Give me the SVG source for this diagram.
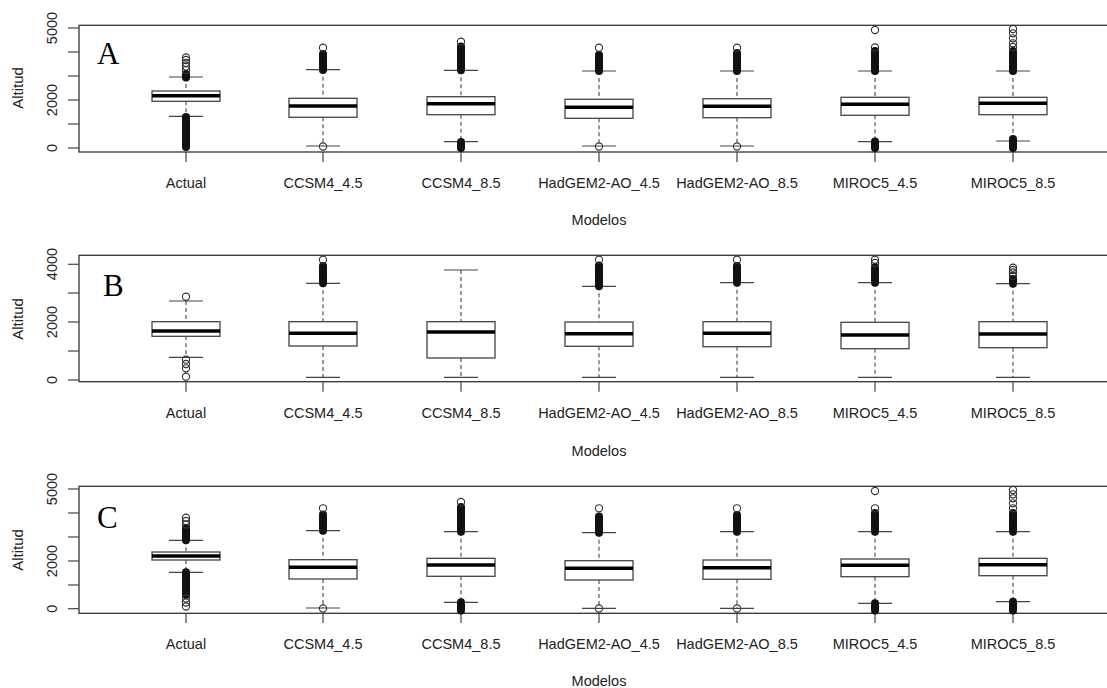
<svg xmlns="http://www.w3.org/2000/svg" width="1107" height="688" viewBox="0 0 1107 688">
<style>
.bg{fill:#fff}
.frame{fill:none;stroke:#333;stroke-width:1.3}
.tick{stroke:#444;stroke-width:1.2}
.box{fill:#fff;stroke:#444;stroke-width:1.3}
.med{stroke:#000;stroke-width:3.6}
.wh{stroke:#555;stroke-width:1.2;stroke-dasharray:4 3}
.cap{stroke:#444;stroke-width:1.2}
.out{fill:none;stroke:#333;stroke-width:1.1}
.dense{stroke:#111;stroke-width:8;stroke-linecap:round}
.lbl{font-family:"Liberation Sans",Arial,sans-serif;font-size:14.5px;fill:#222;text-anchor:middle}
.ttl{font-family:"Liberation Sans",Arial,sans-serif;font-size:15px;fill:#222;text-anchor:middle}
.big{font-family:"Liberation Serif","Times New Roman",serif;font-size:31px;fill:#000}
</style>
<rect class="bg" x="0" y="0" width="1107" height="688"/>

<!-- ================= PANEL A ================= -->
<g id="panel-A">
<rect class="frame" x="79" y="25.3" width="1040" height="126.7"/>
<g id="A-yaxis">
<line class="tick" x1="68" y1="148" x2="79" y2="148"/>
<line class="tick" x1="68" y1="124" x2="79" y2="124"/>
<line class="tick" x1="68" y1="100" x2="79" y2="100"/>
<line class="tick" x1="68" y1="76" x2="79" y2="76"/>
<line class="tick" x1="68" y1="52" x2="79" y2="52"/>
<line class="tick" x1="68" y1="28" x2="79" y2="28"/>
<text class="lbl" transform="translate(57,148) rotate(-90)">0</text>
<text class="lbl" transform="translate(57,100) rotate(-90)">2000</text>
<text class="lbl" transform="translate(57,28) rotate(-90)">5000</text>
<text class="ttl" transform="translate(23,88) rotate(-90)">Altitud</text>
</g>
<g id="A-xaxis">
<line class="tick" x1="186" y1="152" x2="186" y2="162"/>
<line class="tick" x1="323" y1="152" x2="323" y2="162"/>
<line class="tick" x1="461" y1="152" x2="461" y2="162"/>
<line class="tick" x1="599" y1="152" x2="599" y2="162"/>
<line class="tick" x1="737" y1="152" x2="737" y2="162"/>
<line class="tick" x1="875" y1="152" x2="875" y2="162"/>
<line class="tick" x1="1013" y1="152" x2="1013" y2="162"/>
<text class="lbl" x="186" y="188">Actual</text>
<text class="lbl" x="323" y="188">CCSM4_4.5</text>
<text class="lbl" x="461" y="188">CCSM4_8.5</text>
<text class="lbl" x="599" y="188">HadGEM2-AO_4.5</text>
<text class="lbl" x="737" y="188">HadGEM2-AO_8.5</text>
<text class="lbl" x="875" y="188">MIROC5_4.5</text>
<text class="lbl" x="1013" y="188">MIROC5_8.5</text>
<text class="lbl" x="599" y="225">Modelos</text>
</g>
<text class="big" x="97" y="64">A</text>

<g id="A-actual">
<line class="wh" x1="186" y1="77" x2="186" y2="91"/><line class="wh" x1="186" y1="101.3" x2="186" y2="116.3"/>
<line class="cap" x1="169" y1="77" x2="203" y2="77"/><line class="cap" x1="169" y1="116.3" x2="203" y2="116.3"/>
<rect class="box" x="152" y="91" width="68" height="10.3"/>
<line class="med" x1="152" y1="95.7" x2="220" y2="95.7"/>
<line class="dense" x1="186" y1="74" x2="186" y2="77.5"/>
<line class="dense" x1="186" y1="117" x2="186" y2="147"/>
<circle class="out" cx="186" cy="70" r="3.6"/><circle class="out" cx="186" cy="66.5" r="3.6"/><circle class="out" cx="186" cy="63" r="3.6"/><circle class="out" cx="186" cy="60" r="3.6"/><circle class="out" cx="186" cy="57.5" r="3.6"/>
</g>
<g id="A-ccsm4-45">
<line class="wh" x1="323" y1="69.7" x2="323" y2="98.3"/><line class="wh" x1="323" y1="117.3" x2="323" y2="146"/>
<line class="cap" x1="306" y1="69.7" x2="340" y2="69.7"/><line class="cap" x1="306" y1="146" x2="340" y2="146"/>
<rect class="box" x="289" y="98.3" width="68" height="19"/>
<line class="med" x1="289" y1="106" x2="357" y2="106"/>
<line class="dense" x1="323" y1="54" x2="323" y2="70"/>
<circle class="out" cx="323" cy="47.7" r="3.6"/><circle class="out" cx="323" cy="146.5" r="3.6"/>
</g>
<g id="A-ccsm4-85">
<line class="wh" x1="461" y1="70.3" x2="461" y2="96.7"/><line class="wh" x1="461" y1="114.7" x2="461" y2="141.7"/>
<line class="cap" x1="444" y1="70.3" x2="478" y2="70.3"/><line class="cap" x1="444" y1="141.7" x2="478" y2="141.7"/>
<rect class="box" x="427" y="96.7" width="68" height="18"/>
<line class="med" x1="427" y1="103.7" x2="495" y2="103.7"/>
<line class="dense" x1="461" y1="46.5" x2="461" y2="70.3"/>
<line class="dense" x1="461" y1="142" x2="461" y2="148"/>
<circle class="out" cx="461" cy="41.7" r="3.6"/>
</g>
<g id="A-hadgem-45">
<line class="wh" x1="599" y1="71" x2="599" y2="99.3"/><line class="wh" x1="599" y1="118.3" x2="599" y2="146"/>
<line class="cap" x1="582" y1="71" x2="616" y2="71"/><line class="cap" x1="582" y1="146" x2="616" y2="146"/>
<rect class="box" x="565" y="99.3" width="68" height="19"/>
<line class="med" x1="565" y1="107.3" x2="633" y2="107.3"/>
<line class="dense" x1="599" y1="55" x2="599" y2="71"/>
<circle class="out" cx="599" cy="47.7" r="3.6"/><circle class="out" cx="599" cy="146.5" r="3.6"/>
</g>
<g id="A-hadgem-85">
<line class="wh" x1="737" y1="71" x2="737" y2="98.7"/><line class="wh" x1="737" y1="117.7" x2="737" y2="146"/>
<line class="cap" x1="720" y1="71" x2="754" y2="71"/><line class="cap" x1="720" y1="146" x2="754" y2="146"/>
<rect class="box" x="703" y="98.7" width="68" height="19"/>
<line class="med" x1="703" y1="106.3" x2="771" y2="106.3"/>
<line class="dense" x1="737" y1="53" x2="737" y2="71"/>
<circle class="out" cx="737" cy="47.7" r="3.6"/><circle class="out" cx="737" cy="146.5" r="3.6"/>
</g>
<g id="A-miroc-45">
<line class="wh" x1="875" y1="71" x2="875" y2="97.3"/><line class="wh" x1="875" y1="115.3" x2="875" y2="141.7"/>
<line class="cap" x1="858" y1="71" x2="892" y2="71"/><line class="cap" x1="858" y1="141.7" x2="892" y2="141.7"/>
<rect class="box" x="841" y="97.3" width="68" height="18"/>
<line class="med" x1="841" y1="104.3" x2="909" y2="104.3"/>
<line class="dense" x1="875" y1="51" x2="875" y2="71"/>
<line class="dense" x1="875" y1="141.5" x2="875" y2="148"/>
<circle class="out" cx="875" cy="47.5" r="3.6"/><circle class="out" cx="875" cy="30" r="3.6"/>
</g>
<g id="A-miroc-85">
<line class="wh" x1="1013" y1="71" x2="1013" y2="97.3"/><line class="wh" x1="1013" y1="114.7" x2="1013" y2="141"/>
<line class="cap" x1="996" y1="71" x2="1030" y2="71"/><line class="cap" x1="996" y1="141" x2="1030" y2="141"/>
<rect class="box" x="979" y="97.3" width="68" height="17.4"/>
<line class="med" x1="979" y1="103.3" x2="1047" y2="103.3"/>
<line class="dense" x1="1013" y1="51" x2="1013" y2="71"/>
<line class="dense" x1="1013" y1="139" x2="1013" y2="148"/>
<circle class="out" cx="1013" cy="47" r="3.6"/><circle class="out" cx="1013" cy="43.3" r="3.6"/><circle class="out" cx="1013" cy="38.3" r="3.6"/><circle class="out" cx="1013" cy="33.3" r="3.6"/><circle class="out" cx="1013" cy="29" r="3.6"/>
</g>
</g>

<!-- ================= PANEL B ================= -->
<g id="panel-B">
<rect class="frame" x="79" y="255.3" width="1040" height="126.4"/>
<g id="B-yaxis">
<line class="tick" x1="68" y1="380" x2="79" y2="380"/>
<line class="tick" x1="68" y1="351" x2="79" y2="351"/>
<line class="tick" x1="68" y1="322" x2="79" y2="322"/>
<line class="tick" x1="68" y1="293" x2="79" y2="293"/>
<line class="tick" x1="68" y1="264.3" x2="79" y2="264.3"/>
<text class="lbl" transform="translate(57,380) rotate(-90)">0</text>
<text class="lbl" transform="translate(57,322) rotate(-90)">2000</text>
<text class="lbl" transform="translate(57,264) rotate(-90)">4000</text>
<text class="ttl" transform="translate(23,319) rotate(-90)">Altitud</text>
</g>
<g id="B-xaxis">
<line class="tick" x1="186" y1="381.7" x2="186" y2="391.7"/>
<line class="tick" x1="323" y1="381.7" x2="323" y2="391.7"/>
<line class="tick" x1="461" y1="381.7" x2="461" y2="391.7"/>
<line class="tick" x1="599" y1="381.7" x2="599" y2="391.7"/>
<line class="tick" x1="737" y1="381.7" x2="737" y2="391.7"/>
<line class="tick" x1="875" y1="381.7" x2="875" y2="391.7"/>
<line class="tick" x1="1013" y1="381.7" x2="1013" y2="391.7"/>
<text class="lbl" x="186" y="417.5">Actual</text>
<text class="lbl" x="323" y="417.5">CCSM4_4.5</text>
<text class="lbl" x="461" y="417.5">CCSM4_8.5</text>
<text class="lbl" x="599" y="417.5">HadGEM2-AO_4.5</text>
<text class="lbl" x="737" y="417.5">HadGEM2-AO_8.5</text>
<text class="lbl" x="875" y="417.5">MIROC5_4.5</text>
<text class="lbl" x="1013" y="417.5">MIROC5_8.5</text>
<text class="lbl" x="599" y="455.5">Modelos</text>
</g>
<text class="big" x="103" y="295.7">B</text>

<g id="B-actual">
<line class="wh" x1="186" y1="301" x2="186" y2="321.7"/><line class="wh" x1="186" y1="336.3" x2="186" y2="357.3"/>
<line class="cap" x1="169" y1="301" x2="203" y2="301"/><line class="cap" x1="169" y1="357.3" x2="203" y2="357.3"/>
<rect class="box" x="152" y="321.7" width="68" height="14.6"/>
<line class="med" x1="152" y1="331" x2="220" y2="331"/>
<circle class="out" cx="186" cy="296.7" r="3.6"/><circle class="out" cx="186" cy="359.7" r="3.6"/><circle class="out" cx="186" cy="364" r="3.6"/><circle class="out" cx="186" cy="368.3" r="3.6"/><circle class="out" cx="186" cy="376.7" r="3.6"/>
</g>
<g id="B-ccsm4-45">
<line class="wh" x1="323" y1="283.3" x2="323" y2="321.7"/><line class="wh" x1="323" y1="346" x2="323" y2="377.3"/>
<line class="cap" x1="306" y1="283.3" x2="340" y2="283.3"/><line class="cap" x1="306" y1="377.3" x2="340" y2="377.3"/>
<rect class="box" x="289" y="321.7" width="68" height="24.3"/>
<line class="med" x1="289" y1="333.3" x2="357" y2="333.3"/>
<line class="dense" x1="323" y1="266" x2="323" y2="283.3"/>
<circle class="out" cx="323" cy="259.7" r="3.6"/>
</g>
<g id="B-ccsm4-85">
<line class="wh" x1="461" y1="270" x2="461" y2="321.7"/><line class="wh" x1="461" y1="358" x2="461" y2="377.3"/>
<line class="cap" x1="444" y1="270" x2="478" y2="270"/><line class="cap" x1="444" y1="377.3" x2="478" y2="377.3"/>
<rect class="box" x="427" y="321.7" width="68" height="36.3"/>
<line class="med" x1="427" y1="332" x2="495" y2="332"/>
</g>
<g id="B-hadgem-45">
<line class="wh" x1="599" y1="286.3" x2="599" y2="322"/><line class="wh" x1="599" y1="346.3" x2="599" y2="377.3"/>
<line class="cap" x1="582" y1="286.3" x2="616" y2="286.3"/><line class="cap" x1="582" y1="377.3" x2="616" y2="377.3"/>
<rect class="box" x="565" y="322" width="68" height="24.3"/>
<line class="med" x1="565" y1="333.7" x2="633" y2="333.7"/>
<line class="dense" x1="599" y1="265.5" x2="599" y2="286.3"/>
<circle class="out" cx="599" cy="259.7" r="3.6"/>
</g>
<g id="B-hadgem-85">
<line class="wh" x1="737" y1="282.7" x2="737" y2="321.7"/><line class="wh" x1="737" y1="346.7" x2="737" y2="377.3"/>
<line class="cap" x1="720" y1="282.7" x2="754" y2="282.7"/><line class="cap" x1="720" y1="377.3" x2="754" y2="377.3"/>
<rect class="box" x="703" y="321.7" width="68" height="25"/>
<line class="med" x1="703" y1="333.3" x2="771" y2="333.3"/>
<line class="dense" x1="737" y1="266" x2="737" y2="282.7"/>
<circle class="out" cx="737" cy="259.7" r="3.6"/>
</g>
<g id="B-miroc-45">
<line class="wh" x1="875" y1="282.7" x2="875" y2="322.3"/><line class="wh" x1="875" y1="348.7" x2="875" y2="377.3"/>
<line class="cap" x1="858" y1="282.7" x2="892" y2="282.7"/><line class="cap" x1="858" y1="377.3" x2="892" y2="377.3"/>
<rect class="box" x="841" y="322.3" width="68" height="26.4"/>
<line class="med" x1="841" y1="335" x2="909" y2="335"/>
<line class="dense" x1="875" y1="267" x2="875" y2="282.7"/>
<circle class="out" cx="875" cy="263" r="3.6"/><circle class="out" cx="875" cy="259.7" r="3.6"/>
</g>
<g id="B-miroc-85">
<line class="wh" x1="1013" y1="283.7" x2="1013" y2="321.7"/><line class="wh" x1="1013" y1="347.7" x2="1013" y2="377.3"/>
<line class="cap" x1="996" y1="283.7" x2="1030" y2="283.7"/><line class="cap" x1="996" y1="377.3" x2="1030" y2="377.3"/>
<rect class="box" x="979" y="321.7" width="68" height="26"/>
<line class="med" x1="979" y1="334" x2="1047" y2="334"/>
<line class="dense" x1="1013" y1="279" x2="1013" y2="283.7"/>
<circle class="out" cx="1013" cy="276" r="3.6"/><circle class="out" cx="1013" cy="272.5" r="3.6"/><circle class="out" cx="1013" cy="270" r="3.6"/><circle class="out" cx="1013" cy="267.7" r="3.6"/>
</g>
</g>

<!-- ================= PANEL C ================= -->
<g id="panel-C">
<rect class="frame" x="79" y="486.3" width="1040" height="127"/>
<g id="C-yaxis">
<line class="tick" x1="68" y1="608.7" x2="79" y2="608.7"/>
<line class="tick" x1="68" y1="585" x2="79" y2="585"/>
<line class="tick" x1="68" y1="561" x2="79" y2="561"/>
<line class="tick" x1="68" y1="537" x2="79" y2="537"/>
<line class="tick" x1="68" y1="513" x2="79" y2="513"/>
<line class="tick" x1="68" y1="489" x2="79" y2="489"/>
<text class="lbl" transform="translate(57,608.7) rotate(-90)">0</text>
<text class="lbl" transform="translate(57,561) rotate(-90)">2000</text>
<text class="lbl" transform="translate(57,489) rotate(-90)">5000</text>
<text class="ttl" transform="translate(23,550) rotate(-90)">Altitud</text>
</g>
<g id="C-xaxis">
<line class="tick" x1="186" y1="613.3" x2="186" y2="623"/>
<line class="tick" x1="323" y1="613.3" x2="323" y2="623"/>
<line class="tick" x1="461" y1="613.3" x2="461" y2="623"/>
<line class="tick" x1="599" y1="613.3" x2="599" y2="623"/>
<line class="tick" x1="737" y1="613.3" x2="737" y2="623"/>
<line class="tick" x1="875" y1="613.3" x2="875" y2="623"/>
<line class="tick" x1="1013" y1="613.3" x2="1013" y2="623"/>
<text class="lbl" x="186" y="649">Actual</text>
<text class="lbl" x="323" y="649">CCSM4_4.5</text>
<text class="lbl" x="461" y="649">CCSM4_8.5</text>
<text class="lbl" x="599" y="649">HadGEM2-AO_4.5</text>
<text class="lbl" x="737" y="649">HadGEM2-AO_8.5</text>
<text class="lbl" x="875" y="649">MIROC5_4.5</text>
<text class="lbl" x="1013" y="649">MIROC5_8.5</text>
<text class="lbl" x="599" y="686">Modelos</text>
</g>
<text class="big" x="97" y="527.5">C</text>

<g id="C-actual">
<line class="wh" x1="186" y1="540.3" x2="186" y2="552"/><line class="wh" x1="186" y1="560" x2="186" y2="572.3"/>
<line class="cap" x1="169" y1="540.3" x2="203" y2="540.3"/><line class="cap" x1="169" y1="572.3" x2="203" y2="572.3"/>
<rect class="box" x="152" y="552" width="68" height="8"/>
<line class="med" x1="152" y1="556" x2="220" y2="556"/>
<line class="dense" x1="186" y1="528" x2="186" y2="540.3"/>
<line class="dense" x1="186" y1="572.3" x2="186" y2="595"/>
<circle class="out" cx="186" cy="524.5" r="3.6"/><circle class="out" cx="186" cy="521" r="3.6"/><circle class="out" cx="186" cy="517.7" r="3.6"/>
<circle class="out" cx="186" cy="598.5" r="3.6"/><circle class="out" cx="186" cy="602.5" r="3.6"/><circle class="out" cx="186" cy="606.5" r="3.6"/>
</g>
<g id="C-ccsm4-45">
<line class="wh" x1="323" y1="530.7" x2="323" y2="559.7"/><line class="wh" x1="323" y1="579" x2="323" y2="608"/>
<line class="cap" x1="306" y1="530.7" x2="340" y2="530.7"/><line class="cap" x1="306" y1="608" x2="340" y2="608"/>
<rect class="box" x="289" y="559.7" width="68" height="19.3"/>
<line class="med" x1="289" y1="567.3" x2="357" y2="567.3"/>
<line class="dense" x1="323" y1="514.5" x2="323" y2="530.7"/>
<circle class="out" cx="323" cy="508.3" r="3.6"/><circle class="out" cx="323" cy="608.5" r="3.6"/>
</g>
<g id="C-ccsm4-85">
<line class="wh" x1="461" y1="531.7" x2="461" y2="558.3"/><line class="wh" x1="461" y1="576.3" x2="461" y2="602.3"/>
<line class="cap" x1="444" y1="531.7" x2="478" y2="531.7"/><line class="cap" x1="444" y1="602.3" x2="478" y2="602.3"/>
<rect class="box" x="427" y="558.3" width="68" height="18"/>
<line class="med" x1="427" y1="565" x2="495" y2="565"/>
<line class="dense" x1="461" y1="507" x2="461" y2="531.7"/>
<line class="dense" x1="461" y1="602.3" x2="461" y2="610.5"/>
<circle class="out" cx="461" cy="502" r="3.6"/>
</g>
<g id="C-hadgem-45">
<line class="wh" x1="599" y1="532.7" x2="599" y2="560.7"/><line class="wh" x1="599" y1="580" x2="599" y2="608.3"/>
<line class="cap" x1="582" y1="532.7" x2="616" y2="532.7"/><line class="cap" x1="582" y1="608.3" x2="616" y2="608.3"/>
<rect class="box" x="565" y="560.7" width="68" height="19.3"/>
<line class="med" x1="565" y1="568.3" x2="633" y2="568.3"/>
<line class="dense" x1="599" y1="516.5" x2="599" y2="532.7"/>
<circle class="out" cx="599" cy="508.3" r="3.6"/><circle class="out" cx="599" cy="608.5" r="3.6"/>
</g>
<g id="C-hadgem-85">
<line class="wh" x1="737" y1="531.7" x2="737" y2="560"/><line class="wh" x1="737" y1="579.3" x2="737" y2="608.3"/>
<line class="cap" x1="720" y1="531.7" x2="754" y2="531.7"/><line class="cap" x1="720" y1="608.3" x2="754" y2="608.3"/>
<rect class="box" x="703" y="560" width="68" height="19.3"/>
<line class="med" x1="703" y1="567.7" x2="771" y2="567.7"/>
<line class="dense" x1="737" y1="515" x2="737" y2="531.7"/>
<circle class="out" cx="737" cy="508.3" r="3.6"/><circle class="out" cx="737" cy="608.5" r="3.6"/>
</g>
<g id="C-miroc-45">
<line class="wh" x1="875" y1="531.7" x2="875" y2="559"/><line class="wh" x1="875" y1="576.7" x2="875" y2="603.3"/>
<line class="cap" x1="858" y1="531.7" x2="892" y2="531.7"/><line class="cap" x1="858" y1="603.3" x2="892" y2="603.3"/>
<rect class="box" x="841" y="559" width="68" height="17.7"/>
<line class="med" x1="841" y1="565.3" x2="909" y2="565.3"/>
<line class="dense" x1="875" y1="513" x2="875" y2="531.7"/>
<line class="dense" x1="875" y1="603.3" x2="875" y2="610.5"/>
<circle class="out" cx="875" cy="508.3" r="3.6"/><circle class="out" cx="875" cy="491" r="3.6"/>
</g>
<g id="C-miroc-85">
<line class="wh" x1="1013" y1="531.7" x2="1013" y2="558.3"/><line class="wh" x1="1013" y1="575.7" x2="1013" y2="601.7"/>
<line class="cap" x1="996" y1="531.7" x2="1030" y2="531.7"/><line class="cap" x1="996" y1="601.7" x2="1030" y2="601.7"/>
<rect class="box" x="979" y="558.3" width="68" height="17.4"/>
<line class="med" x1="979" y1="564.7" x2="1047" y2="564.7"/>
<line class="dense" x1="1013" y1="513" x2="1013" y2="531.7"/>
<line class="dense" x1="1013" y1="601.7" x2="1013" y2="610.5"/>
<circle class="out" cx="1013" cy="508.3" r="3.6"/><circle class="out" cx="1013" cy="503.3" r="3.6"/><circle class="out" cx="1013" cy="498.3" r="3.6"/><circle class="out" cx="1013" cy="494.3" r="3.6"/><circle class="out" cx="1013" cy="490" r="3.6"/>
</g>
</g>
</svg>
